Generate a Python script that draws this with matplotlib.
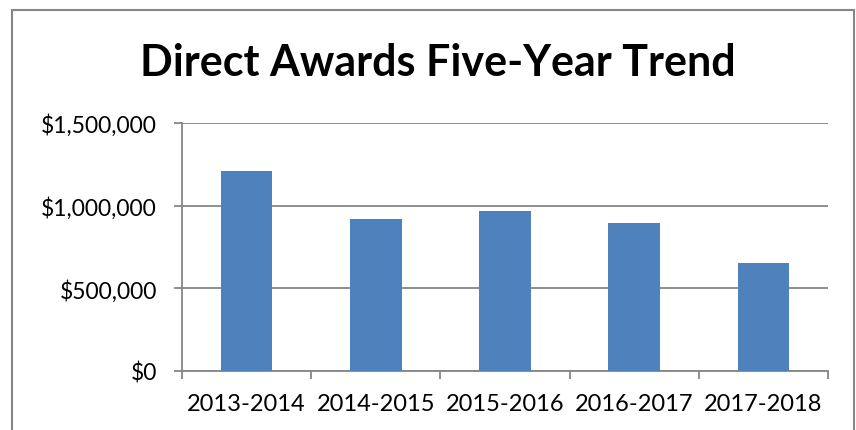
import matplotlib.pyplot as plt
from matplotlib.patches import Rectangle
from matplotlib.ticker import FuncFormatter, FixedLocator

# 数据
years = ["2013-2014", "2014-2015", "2015-2016", "2016-2017", "2017-2018"]
awards = [1212000, 920000, 967000, 898000, 652000]

bar_color = "#4F81BD"
grid_color = "#868686"

plt.rcParams['font.family'] = ['Lato', 'DejaVu Sans']

fig = plt.figure(figsize=(8.56, 4.31), dpi=100)
ax = fig.add_axes([182/856, 59/431, 646/856, 248/431])

x = list(range(len(years)))
ax.bar(x, awards, width=0.4, color=bar_color, zorder=3)

ax.set_xlim(-0.5, len(years) - 0.5)
ax.set_ylim(0, 1500000)
ax.set_yticks([0, 500000, 1000000, 1500000])
ax.yaxis.set_major_formatter(FuncFormatter(lambda v, p: f"${v:,.0f}"))
ax.yaxis.grid(True, color=grid_color, linewidth=1.3, zorder=0)

# x轴刻度放在类别之间
ax.set_xticks(x)
ax.set_xticklabels(years)
ax.xaxis.set_minor_locator(FixedLocator([i - 0.5 for i in range(len(years) + 1)]))
ax.tick_params(axis='x', which='major', length=0, labelsize=17, pad=16)
ax.tick_params(axis='x', which='minor', length=6, color=grid_color, width=1.3)
ax.tick_params(axis='y', length=6, color=grid_color, width=1.3, labelsize=16.5, pad=12)

for s in ['top', 'right']:
    ax.spines[s].set_visible(False)
for s in ['left', 'bottom']:
    ax.spines[s].set_color(grid_color)
    ax.spines[s].set_linewidth(1.3)

fig.text(438/856, 1 - 63/431, "Direct Awards Five-Year Trend", ha='center', va='center',
         fontsize=31, fontweight='bold')

# 外框
fig.patches.append(Rectangle((12/856, -0.05), 842/856, 1.05 - 11/431, transform=fig.transFigure,
                             fill=False, edgecolor=grid_color, linewidth=1.5))

fig.savefig("out.png", dpi=100)
